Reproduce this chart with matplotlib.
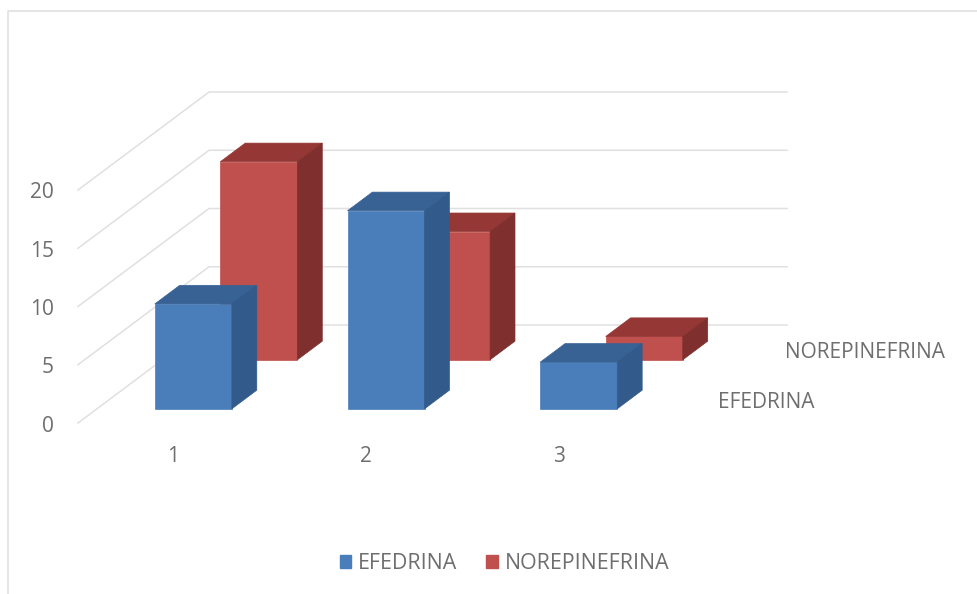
import matplotlib
matplotlib.use("Agg")
import matplotlib.pyplot as plt
from matplotlib.patches import Polygon, Patch

plt.rcParams['font.family'] = ['Open Sans', 'DejaVu Sans']

categories = ["1", "2", "3"]
series_names = ["EFEDRINA", "NOREPINEFRINA"]
efedrina = [9, 17, 4]
norepinefrina = [17, 11, 2]
value_ticks = [0, 5, 10, 15, 20]

# oblique view, in figure pixels
ORIGIN_X, ORIGIN_Y = 78, 423
CAT_W = 192.7
UNIT_H = 11.65
ROW_DX, ROW_DY = 65.5, 49
BAR_W = 0.4
ROW_START, ROW_END = 0.29, 0.67

FRONT = {"EFEDRINA": "#4a7ebb", "NOREPINEFRINA": "#c0504d"}
TOP = {"EFEDRINA": "#386294", "NOREPINEFRINA": "#953735"}
SIDE = {"EFEDRINA": "#325a8a", "NOREPINEFRINA": "#7f2f2d"}
TEXT = "#6e6e6e"
GRID = "#e0e0e0"
FONT_SIZE = 15


def project(cat, val, depth):
    return (ORIGIN_X + cat * CAT_W + depth * ROW_DX,
            ORIGIN_Y - val * UNIT_H - depth * ROW_DY)


def draw_bar(ax, i, val, row, name):
    x0 = i + 0.5 - BAR_W / 2
    x1 = i + 0.5 + BAR_W / 2
    d0 = row + ROW_START
    d1 = row + ROW_END
    z = 3 + (1 - row) * 2
    ax.add_patch(Polygon([project(x0, 0, d0), project(x1, 0, d0),
                          project(x1, val, d0), project(x0, val, d0)],
                         fc=FRONT[name], ec=FRONT[name], lw=0.5, zorder=z))
    ax.add_patch(Polygon([project(x0, val, d0), project(x1, val, d0),
                          project(x1, val, d1), project(x0, val, d1)],
                         fc=TOP[name], ec=TOP[name], lw=0.5, zorder=z))
    ax.add_patch(Polygon([project(x1, 0, d0), project(x1, 0, d1),
                          project(x1, val, d1), project(x1, val, d0)],
                         fc=SIDE[name], ec=SIDE[name], lw=0.5, zorder=z))


fig = plt.figure(figsize=(9.78, 5.94), dpi=100)
ax = fig.add_axes([0, 0, 1, 1])
ax.set_xlim(0, 978)
ax.set_ylim(594, 0)
ax.axis("off")

# chart frame along the top and left
ax.plot([8, 8, 978], [594, 11, 11], color="#e0e0e0", lw=1.2, zorder=1)

n_cats = len(categories)
for v in value_ticks:
    pts = [project(0, v, 0), project(0, v, 2), project(n_cats, v, 2)]
    ax.plot([p[0] for p in pts], [p[1] for p in pts], color=GRID, lw=1.1, zorder=2)
    x, y = project(0, v, 0)
    ax.text(x - 24, y + 3, str(v), ha="right", va="center",
            fontsize=FONT_SIZE, color=TEXT)

for row, (name, vals) in enumerate(zip(series_names, [efedrina, norepinefrina])):
    for i, val in enumerate(vals):
        draw_bar(ax, i, val, row, name)

for i, c in enumerate(categories):
    x, y = project(i + 0.5, 0, 0)
    ax.text(x - 1, y + 34, c, ha="center", va="center", fontsize=FONT_SIZE, color=TEXT)

ax.text(766, 402, series_names[0], ha="center", va="center", fontsize=FONT_SIZE, color=TEXT)
ax.text(865, 352, series_names[1], ha="center", va="center", fontsize=FONT_SIZE, color=TEXT)

handles = [Patch(fc=FRONT[n], ec=FRONT[n]) for n in series_names]
ax.legend(handles, series_names, ncol=2, loc="center", bbox_to_anchor=(0.516, 0.051),
          frameon=False, fontsize=15.4, labelcolor=TEXT, handlelength=0.55,
          handleheight=0.55, handletextpad=0.32, columnspacing=1.35)

fig.savefig("out.png", dpi=100)
